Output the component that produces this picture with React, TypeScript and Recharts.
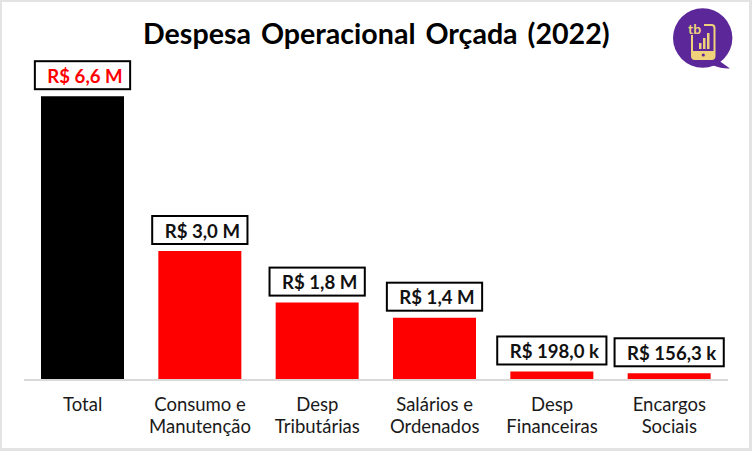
import { BarChart, Bar, XAxis, YAxis, Cell, LabelList } from "recharts";

const categories = [
  "Total",
  "Consumo e\nManutenção",
  "Desp\nTributárias",
  "Salários e\nOrdenados",
  "Desp\nFinanceiras",
  "Encargos\nSociais",
];
const values = [6.6, 3.0, 1.8, 1.449, 0.198, 0.1563];
const valueLabels = ["R$ 6,6 M", "R$ 3,0 M", "R$ 1,8 M", "R$ 1,4 M", "R$ 198,0 k", "R$ 156,3 k"];

const data = categories.map((name, i) => ({ name, value: values[i], label: valueLabels[i] }));

const FONT = "Lato, sans-serif";
const LABEL_FONT = `bold 18.6px Lato`;

// box width follows the text, with the uneven padding of the original labels
const measure = (text: string) => {
  const ctx = document.createElement("canvas").getContext("2d");
  if (!ctx) return text.length * 8;
  ctx.font = LABEL_FONT;
  return ctx.measureText(text).width;
};

function CategoryTick({ x, y, payload }: any) {
  const lines = String(payload.value).split("\n");
  return (
    <text x={x} textAnchor="middle" fontFamily={FONT} fontSize={18.5} fill="#1a1a1a">
      {lines.map((line, i) => (
        <tspan key={line} x={x} y={y + 22.5 + i * 22}>
          {line}
        </tspan>
      ))}
    </text>
  );
}

function ValueBox({ x, y, width, value, index }: any) {
  const textWidth = measure(value);
  const boxWidth = textWidth + 20;
  const boxHeight = 28;
  const boxX = x + width / 2 - boxWidth / 2;
  const boxY = y - 7 - boxHeight;
  return (
    <g>
      <rect x={boxX} y={boxY} width={boxWidth} height={boxHeight} fill="#fff" stroke="#000" strokeWidth={2} />
      <text
        x={boxX + 12.5}
        y={boxY + 21.5}
        fontFamily={FONT}
        fontSize={18.6}
        fontWeight="bold"
        fill={index === 0 ? "#ff0000" : "#111"}
      >
        {value}
      </text>
    </g>
  );
}

function Logo() {
  return (
    <g>
      {/* speech bubble */}
      <circle cx={702.7} cy={38} r={29.7} fill="#5b2799" />
      <path d="M718 60 L730 68.5 Q722 69 712 65 Z" fill="#5b2799" />
      {/* phone */}
      <rect x={692} y={25} width={22.5} height={34} rx={3} fill="none" stroke="#f0d27a" strokeWidth={2} />
      <rect x={686} y={22} width={18} height={13} fill="#5b2799" />
      <text x={688} y={34} fontFamily={FONT} fontSize={14} fontWeight="bold" fill="#f0d27a">
        tb
      </text>
      <path d="M692 51 H714 V56 Q714 59 711 59 H695 Q692 59 692 56 Z" fill="#f0d27a" />
      <circle cx={703.3} cy={55} r={1.6} fill="#5b2799" />
      <rect x={699} y={43} width={2.5} height={6} fill="#f0d27a" />
      <rect x={703} y={38} width={2.5} height={11} fill="#f0d27a" />
      <rect x={707} y={33} width={2.5} height={16} fill="#f0d27a" />
    </g>
  );
}

export default function App() {
  return (
    <div style={{ position: "absolute", left: 0, top: 0, width: 752, height: 451, background: "#fff" }}>
      <BarChart width={752} height={451} data={data} margin={{ top: 36, right: 24, bottom: 0, left: 24 }}>
        <XAxis
          dataKey="name"
          height={71}
          interval={0}
          tickLine={false}
          axisLine={{ stroke: "#d9d9d9", strokeWidth: 2 }}
          tick={<CategoryTick />}
        />
        <YAxis hide domain={[0, 8]} />
        <Bar dataKey="value" barSize={83} isAnimationActive={false}>
          {data.map((d, i) => (
            <Cell key={d.name} fill={i === 0 ? "#000" : "#ff0000"} />
          ))}
          <LabelList dataKey="label" content={<ValueBox />} />
        </Bar>
      </BarChart>

      <svg width={752} height={451} style={{ position: "absolute", left: 0, top: 0, pointerEvents: "none" }}>
        <text x={143} y={44} fontFamily={FONT} fontSize={28.6} fontWeight="bold" fill="#000" wordSpacing={3}>
          Despesa Operacional Orçada (2022)
        </text>
        <Logo />
      </svg>

      {/* outer frame */}
      <div
        style={{
          position: "absolute",
          inset: 0,
          boxSizing: "border-box",
          borderStyle: "solid",
          borderColor: "#e3e3e3",
          borderWidth: "2px 3px 3px 2px",
          pointerEvents: "none",
        }}
      />
    </div>
  );
}
